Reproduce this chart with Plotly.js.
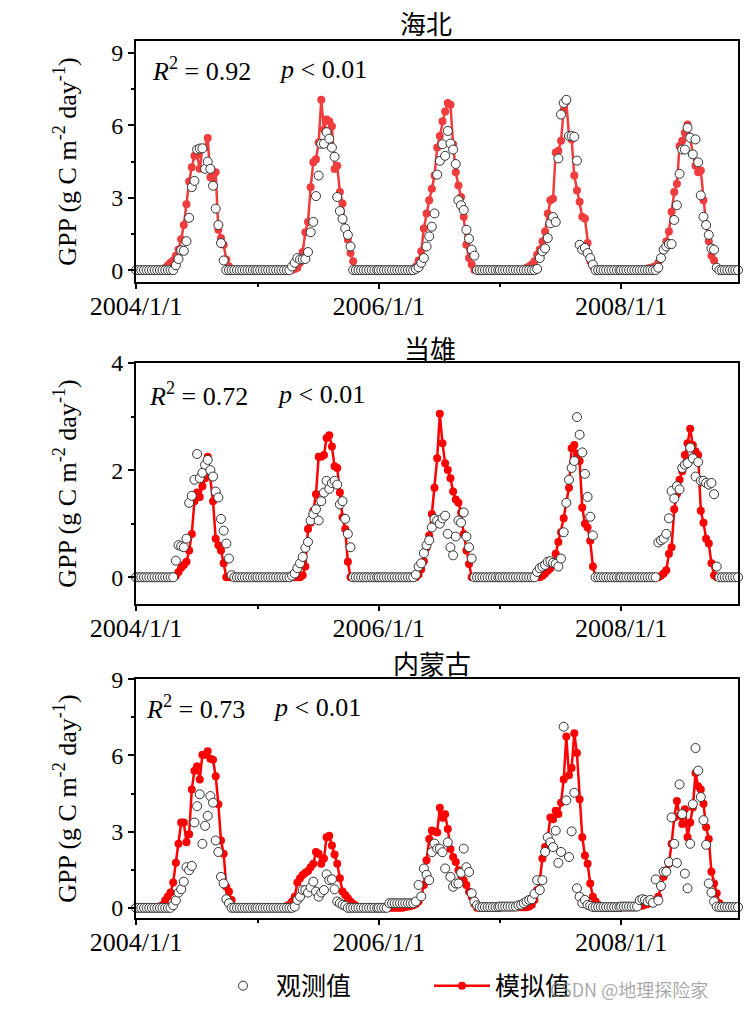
<!DOCTYPE html>
<html>
<head>
<meta charset="utf-8">
<script src="https://cdn.plot.ly/plotly-3.0.1.min.js"></script>
<style>html,body{margin:0;padding:0;background:#fff;}#chart{width:756px;height:1021px;}</style>
</head>
<body>
<div id="chart"></div>
<script>
// ---- data (8-day GPP, 46 composites per year, 2004-2008) ----
const years = [2004, 2005, 2006, 2007, 2008];
const sites = ['海北', '当雄', '内蒙古'];
const r2Labels = ['0.92', '0.72', '0.73'];

const haibeiObs = [
 0,0,0,0,0,0,0,0,0,0,0,0,0,0,0, 0.2,0.46,0.82,0.8,1.2,2.17,3.44,3.7,5.0,5.04,5.05,4.2,4.5,4.2,3.5,2.55,1.87,1.12,0.4, 0,0,0,0,0,0,0,0,0,0,0,0,
 0,0,0,0,0,0,0,0,0,0,0,0,0, 0.15,0.3,0.5,0.44,0.45,0.46,0.75,1.57,2.0,3.07,3.92,5.24,5.24,5.72,5.45,5.08,4.7,3.03,2.45,2.12,1.73,1.46,0.98, 0,0,0,0,0,0,0,0,0,0,
 0,0,0,0,0,0,0,0,0,0,0,0,0,0, 0.05,0.12,0.3,0.5,0.98,1.4,1.8,2.35,3.96,4.53,5.22,4.74,5.77,5.25,5.0,4.4,2.9,2.69,2.49,1.67,1.3,0.85,0.6, 0,0,0,0,0,0,0,0,0,
 0,0,0,0,0,0,0,0,0,0,0,0,0,0, 0.05,0.5,0.78,0.9,1.33,1.94,2.2,2.0,4.63,6.45,6.93,7.06,5.56,5.56,5.53,4.54,1.05,0.85,0.92,0.71,0.5,0.23, 0,0,0,0,0,0,0,0,0,0,
 0,0,0,0,0,0,0,0,0,0,0,0,0,0, 0.1,0.5,0.85,0.98,1.08,1.08,2.08,2.69,3.99,5.0,5.0,5.9,5.49,4.8,5.42,4.47,3.1,2.21,1.87,1.46,0.9,0.85,0.1, 0,0,0,0,0,0,0,0,0
];
const haibeiSim = [
 0,0,0,0,0,0,0,0,0, 0.05,0.05,0.1,0.2,0.3,0.4,0.6,0.85,1.28,1.87,2.73,3.67,4.26,4.74,4.77,4.2,5.04,5.08,5.48,3.85,3.78,4.06,1.67,1.33,1.05,0.44,0.16, 0,0,0,0,0,0,0,0,0,0,
 0,0,0,0,0,0,0,0,0,0,0,0,0,0, 0.05,0.1,0.3,0.75,1.57,2.0,3.44,4.47,4.6,5.29,7.06,5.83,6.24,6.17,5.97,4.19,4.33,3.24,2.76,1.73,1.26,0.71,0.37, 0,0,0,0,0,0,0,0,0,
 0,0,0,0,0,0,0,0,0,0,0,0,0, 0.05,0.15,0.4,0.78,1.73,2.35,2.9,3.37,3.92,5.08,5.56,6.17,6.58,6.93,6.86,5.22,4.06,3.51,3.03,2.21,1.05,0.5,0.23, 0,0,0,0,0,0,0,0,0,0,
 0,0,0,0,0,0,0,0,0,0, 0.1,0.15,0.23,0.37,0.64,0.85,1.19,1.6,2.35,2.9,2.96,4.88,4.95,5.36,6.65,6.99,5.56,5.42,3.92,3.3,2.83,2.21,2.14,1.12,0.37,0.16, 0,0,0,0,0,0,0,0,0,0,
 0,0,0,0,0,0,0,0,0,0, 0.07,0.1,0.12,0.16,0.3,0.5,0.85,1.19,1.6,2.42,3.24,3.58,5.15,5.36,5.7,6.04,5.5,4.81,4.33,4.06,4.13,2.9,1.9,1.2,0.6,0.4,0.1, 0,0,0,0,0,0,0,0,0
];
const dangxiongObs = [
 0,0,0,0,0,0,0,0,0,0,0,0,0,0,0, 0.31,0.6,0.58,0.56,0.72,1.39,1.52,1.82,2.3,1.85,1.95,2.1,2.19,2.0,1.88,1.6,1.49,1.09,0.87,0.63,0.35,0.04, 0,0,0,0,0,0,0,0,0,
 0,0,0,0,0,0,0,0,0,0,0,0,0, 0.03,0.07,0.17,0.26,0.38,0.55,0.66,1.06,1.18,1.27,1.06,1.42,1.58,1.8,1.65,1.76,1.8,1.73,1.36,1.42,1.09,0.81,0.56, 0,0,0,0,0,0,0,0,0,0,
 0,0,0,0,0,0,0,0,0,0,0,0,0,0, 0.05,0.2,0.26,0.45,0.6,0.69,0.93,1.09,1.06,1.0,1.1,1.15,0.81,0.56,0.41,0.76,1.06,1.02,1.21,0.76,0.56,0.35, 0,0,0,0,0,0,0,0,0,0,
 0,0,0,0,0,0,0,0,0,0,0,0,0,0, 0.1,0.17,0.2,0.23,0.29,0.3,0.27,0.25,0.2,0.35,0.84,1.39,1.82,2.04,2.17,2.99,2.66,2.33,1.93,1.5,1.13,0.78, 0,0,0,0,0,0,0,0,0,0,
 0,0,0,0,0,0,0,0,0,0,0,0,0,0, 0.65,0.69,0.72,0.81,1.1,1.61,1.47,1.7,1.64,2.04,2.1,2.13,2.42,2.22,1.88,2.15,1.8,1.8,1.76,1.73,1.76,1.55,0.2, 0,0,0,0,0,0,0,0,0
];
const dangxiongSim = [
 0,0,0,0,0,0,0,0,0,0,0,0,0,0,0, 0.03,0.1,0.18,0.23,0.29,0.5,0.81,1.42,1.58,1.5,1.7,1.85,2.25,1.88,1.42,0.72,0.6,0.5,0.26, 0,0,0,0,0,0,0,0,0,0,0,0,
 0,0,0,0,0,0,0,0,0,0,0,0,0,0,0,0,0, 0.04,0.2,0.9,1.02,1.24,1.55,2.25,2.25,2.28,2.6,2.65,2.44,2.07,2.04,1.58,1.12,0.9,0.29, 0,0,0,0,0,0,0,0,0,0,0,
 0,0,0,0,0,0,0,0,0,0,0,0,0,0,0, 0.05,0.15,0.3,0.55,0.78,1.18,1.67,2.22,3.05,2.5,2.13,2.0,1.85,1.6,1.45,1.39,1.21,0.81,0.5,0.25, 0,0,0,0,0,0,0,0,0,0,0,
 0,0,0,0,0,0,0,0,0,0,0,0,0,0,0,0, 0.03,0.07,0.12,0.17,0.26,0.44,0.66,0.84,1.1,1.4,1.67,2.41,2.47,2.3,2.17,1.3,1.0,0.93,0.68,0.2, 0,0,0,0,0,0,0,0,0,0,
 0,0,0,0,0,0,0,0,0,0,0,0,0,0,0, 0.03,0.07,0.13,0.44,0.56,1.27,1.55,1.82,1.98,2.28,2.5,2.77,2.47,2.35,2.28,1.24,1.02,0.72,0.63,0.26,0.04, 0,0,0,0,0,0,0,0,0,0
];
const neimengguObs = [
 0,0,0,0,0,0,0,0,0,0,0,0,0,0, 0.1,0.29,0.6,0.73,1.03,1.6,1.48,1.65,3.36,4.0,4.47,2.52,3.23,3.62,4.4,4.14,2.65,2.2,1.22,0.96,0.34,0.18, 0,0,0,0,0,0,0,0,0,0,
 0,0,0,0,0,0,0,0,0,0,0,0,0,0, 0.05,0.31,0.44,0.7,0.7,0.6,0.8,1.03,0.64,0.44,0.6,0.7,1.32,1.09,1.12,0.73,0.25,0.18,0.12,0.08, 0,0,0,0,0,0,0,0,0,0,0,0,
 0,0,0,0, 0.18,0.18,0.18,0.18,0.18,0.18,0.18,0.18,0.18,0.18, 0.25,0.9,0.45,1.55,1.3,1.09,2.19,2.53,2.33,2.33,2.19,1.55,2.58,1.22,0.83,0.96,0.96,1.38,2.33,1.6,1.41,0.57,0.25,0.1, 0.03,0.03,0.03,0.03,0.03,0.03,0.03,0.03,
 0.05,0.05,0.05,0.05,0.05,0.05,0.05, 0.1,0.12,0.18,0.25,0.31,0.34,0.55,1.09,0.7,1.09,2.2,2.78,2.58,2.39,3.04,1.77,2.2,7.13,4.23,2.0,3.01,4.53,0.77,0.44,0.18,0.31,0.12,0.08, 0.03,0.03,0.03,0.03,0.03,0.03,0.03,0.03,0.03,0.03,0.03,
 0.05,0.05,0.05,0.05,0.05,0.05,0.05, 0.3,0.34,0.31,0.25,0.31,0.2,1.12,0.29,0.86,1.42,1.42,1.8,3.56,2.52,1.77,4.86,3.69,1.35,0.77,2.52,4.08,6.29,5.4,4.36,3.45,2.48,0.96,0.6,0.25,0.05, 0.03,0.03,0.03,0.03,0.03,0.03,0.03,0.03,0.03
];
const neimengguSim = [
 0,0,0,0,0,0,0,0,0, 0.05,0.1,0.3,0.45,0.6,1.0,1.77,2.52,3.36,3.36,2.58,2.9,4.66,5.4,5.57,5.05,6.03,6.03,6.16,5.87,5.83,5.18,4.08,2.65,2.13,0.83,0.64,0.31, 0,0,0,0,0,0,0,0,0,
 0,0,0,0,0,0,0,0,0,0, 0.03,0.07,0.12,0.25,0.44,1.0,1.16,1.29,1.38,1.45,1.6,1.74,2.2,2.13,1.74,1.94,2.78,2.84,2.45,2.1,1.74,1.16,0.64,0.51,0.38,0.25,0.16,0.08, 0,0,0,0,0,0,0,0,
 0,0,0,0,0,0,0,0,0,0, 0.03,0.05,0.07,0.1,0.15,0.25,0.44,0.9,1.87,2.71,3.04,3.0,2.97,3.94,3.55,3.68,3.1,2.32,2.0,1.8,1.48,1.28,1.09,0.9,0.63,0.44,0.15, 0,0,0,0,0,0,0,0,0,
 0.02,0.02,0.02,0.02,0.02,0.02,0.02,0.02,0.02,0.02,0.02, 0.05,0.12,0.31,0.7,1.09,1.94,2.39,2.78,3.56,3.49,3.82,3.69,4.14,5.05,6.74,5.22,5.5,6.87,6.09,4.27,2.78,2.06,1.74,0.96,0.44,0.25,0.12,0.03, 0,0,0,0,0,0,0,
 0.02,0.02,0.02,0.02,0.02,0.02, 0.05,0.08,0.08,0.12,0.15,0.2,0.25,0.3,0.44,0.83,1.22,1.48,1.74,2.52,3.56,4.21,3.62,3.3,3.88,2.78,3.36,3.95,5.31,4.79,4.66,4.1,3.17,2.71,1.42,0.96,0.57,0.18, 0,0,0,0,0,0,0,0
];

// composite dates: Jan 1 + 8-day steps
const dates = [];
years.forEach(function (yr) {
  for (let k = 0; k < 46; k++) {
    const d = new Date(Date.UTC(yr, 0, 1 + 8 * k));
    dates.push(d.toISOString().slice(0, 10));
  }
});

// ---- layout helpers (pixel -> paper) ----
const W = 756, H = 1021;
const M = {l: 136, r: 18, t: 41, b: 92.7};
const PW = W - M.l - M.r, PH = H - M.t - M.b;
const px = v => (v - M.l) / PW;
const py = v => (H - M.b - v) / PH;

const panels = [
  {obs: haibeiObs, sim: haibeiSim, color: '#f03c3c', top: 41, bot: 285, range: [-0.5, 9.5], dtick: 3, minor: 1.5, titleX: 426, titleY: 22, annX: 150, pX: 277, annY: 69.5},
  {obs: dangxiongObs, sim: dangxiongSim, color: '#ff0000', top: 366.7, bot: 610.7, range: [-0.5, 4], dtick: 2, minor: 1, titleX: 430, titleY: 351, annX: 147, pX: 275, annY: 399},
  {obs: neimengguObs, sim: neimengguSim, color: '#ff0000', top: 686.7, bot: 928.3, range: [-0.4, 9], dtick: 3, minor: 1.5, titleX: 432, titleY: 670, annX: 144, pX: 271, annY: 715.5}
];

const serif = 'Liberation Serif, Times New Roman, serif';
const cjk = 'Noto Sans CJK SC, sans-serif';

const traces = [];
const layout = {
  width: W, height: H, margin: M, paper_bgcolor: '#fff', plot_bgcolor: '#fff',
  showlegend: true,
  legend: {orientation: 'h', x: px(210), y: py(997), xanchor: 'left', yanchor: 'middle',
           font: {family: cjk, size: 25, color: '#000'}, itemwidth: 56, entrywidth: 148, entrywidthmode: 'pixels', bgcolor: 'rgba(0,0,0,0)'},
  annotations: []
};

panels.forEach(function (p, i) {
  const n = i === 0 ? '' : String(i + 1);
  traces.push({
    type: 'scatter', mode: 'lines+markers', x: dates, y: p.sim, xaxis: 'x' + n, yaxis: 'y' + n,
    name: '模拟值', legendrank: 2, showlegend: i === 2, cliponaxis: false,
    line: {color: p.color, width: 2.5}, marker: {color: p.color, size: 8}
  });
  traces.push({
    type: 'scatter', mode: 'markers', x: dates, y: p.obs, xaxis: 'x' + n, yaxis: 'y' + n,
    name: '观测值', legendrank: 1, showlegend: i === 2, cliponaxis: false,
    marker: {symbol: 'circle', color: '#fff', size: 9, line: {color: '#333', width: 1}}
  });
  layout['xaxis' + n] = {
    anchor: 'y' + n, domain: [0, 1], type: 'date', range: ['2004-01-01', '2008-12-18'],
    tick0: '2004-01-01', dtick: 'M24', tickformat: '%Y/%-m/%-d',
    ticks: 'outside', ticklen: 5, tickwidth: 2, tickcolor: '#000', ticklabelstandoff: -5,
    minor: {dtick: 'M12', tick0: '2004-01-01', ticks: 'outside', ticklen: 3, tickwidth: 2, tickcolor: '#000', showgrid: false},
    showline: true, linewidth: 2, linecolor: '#000', mirror: true, showgrid: false, zeroline: false,
    tickfont: {family: serif, size: 26, color: '#000'}
  };
  layout['yaxis' + n] = {
    anchor: 'x' + n, domain: [py(p.bot), py(p.top)], range: p.range,
    tick0: 0, dtick: p.dtick, ticks: 'outside', ticklen: 6, tickwidth: 2, tickcolor: '#000',
    minor: {dtick: p.minor, tick0: 0, ticks: 'outside', ticklen: 3, tickwidth: 2, tickcolor: '#000', showgrid: false},
    showline: true, linewidth: 2, linecolor: '#000', mirror: true, showgrid: false, zeroline: false,
    tickfont: {family: serif, size: 24, color: '#000'},
    title: {text: 'GPP (g C m<sup>-2</sup> day<sup>-1</sup>)', font: {family: serif, size: 26, color: '#000'}, standoff: 27}
  };
  layout.annotations.push({
    xref: 'paper', yref: 'paper', x: px(p.titleX), y: py(p.titleY), xanchor: 'center', yanchor: 'middle',
    text: sites[i], showarrow: false, font: {family: cjk, size: 26, color: '#000'}
  });
  layout.annotations.push({
    xref: 'paper', yref: 'paper', x: px(p.annX), y: py(p.annY), xanchor: 'left', yanchor: 'middle',
    text: '<i>R</i><sup>2</sup> = ' + r2Labels[i], showarrow: false, font: {family: serif, size: 26, color: '#000'}
  });
  layout.annotations.push({
    xref: 'paper', yref: 'paper', x: px(p.pX), y: py(p.annY), xanchor: 'left', yanchor: 'middle',
    text: '<i>p</i> &lt; 0.01', showarrow: false, font: {family: serif, size: 26, color: '#000'}
  });
});

layout.annotations.push({
  xref: 'paper', yref: 'paper', x: px(548), y: py(1000), xanchor: 'left', yanchor: 'middle',
  text: 'CSDN @地理探险家', showarrow: false, font: {family: 'Noto Sans CJK SC, sans-serif', size: 18, color: 'rgba(140,140,140,0.75)'}
});

Plotly.newPlot('chart', traces, layout, {displayModeBar: false, staticPlot: true});
</script>
</body>
</html>
